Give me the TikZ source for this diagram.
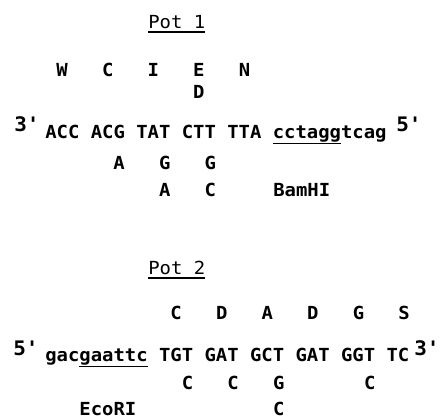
\documentclass[tikz,border=0pt]{standalone}
\usepackage{fontspec}
\newfontfamily\seqfont{DejaVu Sans Mono}[FakeStretch=1.05]
\usepackage{tikz}

\begin{document}
\begin{tikzpicture}[x=0.75pt, y=-0.75pt,
  title/.style={anchor=base west, inner sep=0pt, font=\seqfont\fontsize{13.5}{15}\selectfont},
  seq/.style={anchor=base west, inner sep=0pt, font=\seqfont\bfseries\fontsize{13.5}{15}\selectfont},
  base/.style={anchor=base, inner sep=0pt, font=\seqfont\bfseries\fontsize{13.5}{15}\selectfont},
  strand/.style={anchor=base west, inner sep=0pt, font=\seqfont\bfseries\fontsize{15}{17}\selectfont},
  rule/.style={line width=1.1pt}]
  \useasboundingbox (0,0) rectangle (442,418);

  % Pot 1
  \node[title] (pot1) at (148, 28) {Pot 1};
  \draw[rule] ([yshift=-2.5pt]pot1.south west) -- ([yshift=-2.5pt]pot1.south east);
  \node[base] (aa1W) at (62.1, 76) {W};
  \node[base] (aa1C) at (107.7, 76) {C};
  \node[base] (aa1I) at (153.3, 76) {I};
  \node[base] (aa1E) at (198.9, 76) {E};
  \node[base] (aa1N) at (244.5, 76) {N};
  \node[base] (aa1D) at (198.9, 98) {D};

  \node[strand] (end1a) at (14, 131) {3'};
  \node[seq] (seq1) at (45, 138) {ACC ACG TAT CTT TTA \underline{cctagg}tcag};
  \node[strand] (end1b) at (396, 131) {5'};

  \node[base] (mut1a) at (119.1, 169) {A};
  \node[base] (mut1b) at (164.7, 169) {G};
  \node[base] (mut1c) at (210.3, 169) {G};
  \node[base] (mut1d) at (164.7, 196) {A};
  \node[base] (mut1e) at (210.3, 196) {C};
  \node[seq] (bamhi) at (273, 196) {BamHI};

  % Pot 2
  \node[title] (pot2) at (148, 274) {Pot 2};
  \draw[rule] ([yshift=-2.5pt]pot2.south west) -- ([yshift=-2.5pt]pot2.south east);
  \node[base] (aa2C) at (176.1, 319) {C};
  \node[base] (aa2D) at (221.7, 319) {D};
  \node[base] (aa2A) at (267.3, 319) {A};
  \node[base] (aa2Dd) at (312.9, 319) {D};
  \node[base] (aa2G) at (358.5, 319) {G};
  \node[base] (aa2S) at (404.1, 319) {S};

  \node[strand] (end2a) at (13, 355) {5'};
  \node[seq] (seq2) at (45, 361) {gac\underline{gaattc} TGT GAT GCT GAT GGT TC};
  \node[strand] (end2b) at (414, 355) {3'};

  \node[base] (mut2a) at (187.5, 389) {C};
  \node[base] (mut2b) at (233.1, 389) {C};
  \node[base] (mut2c) at (278.7, 389) {G};
  \node[base] (mut2d) at (369.9, 389) {C};
  \node[base] (mut2e) at (278.7, 415) {C};
  \node[seq] (ecori) at (79.2, 415) {EcoRI};
\end{tikzpicture}
\end{document}
